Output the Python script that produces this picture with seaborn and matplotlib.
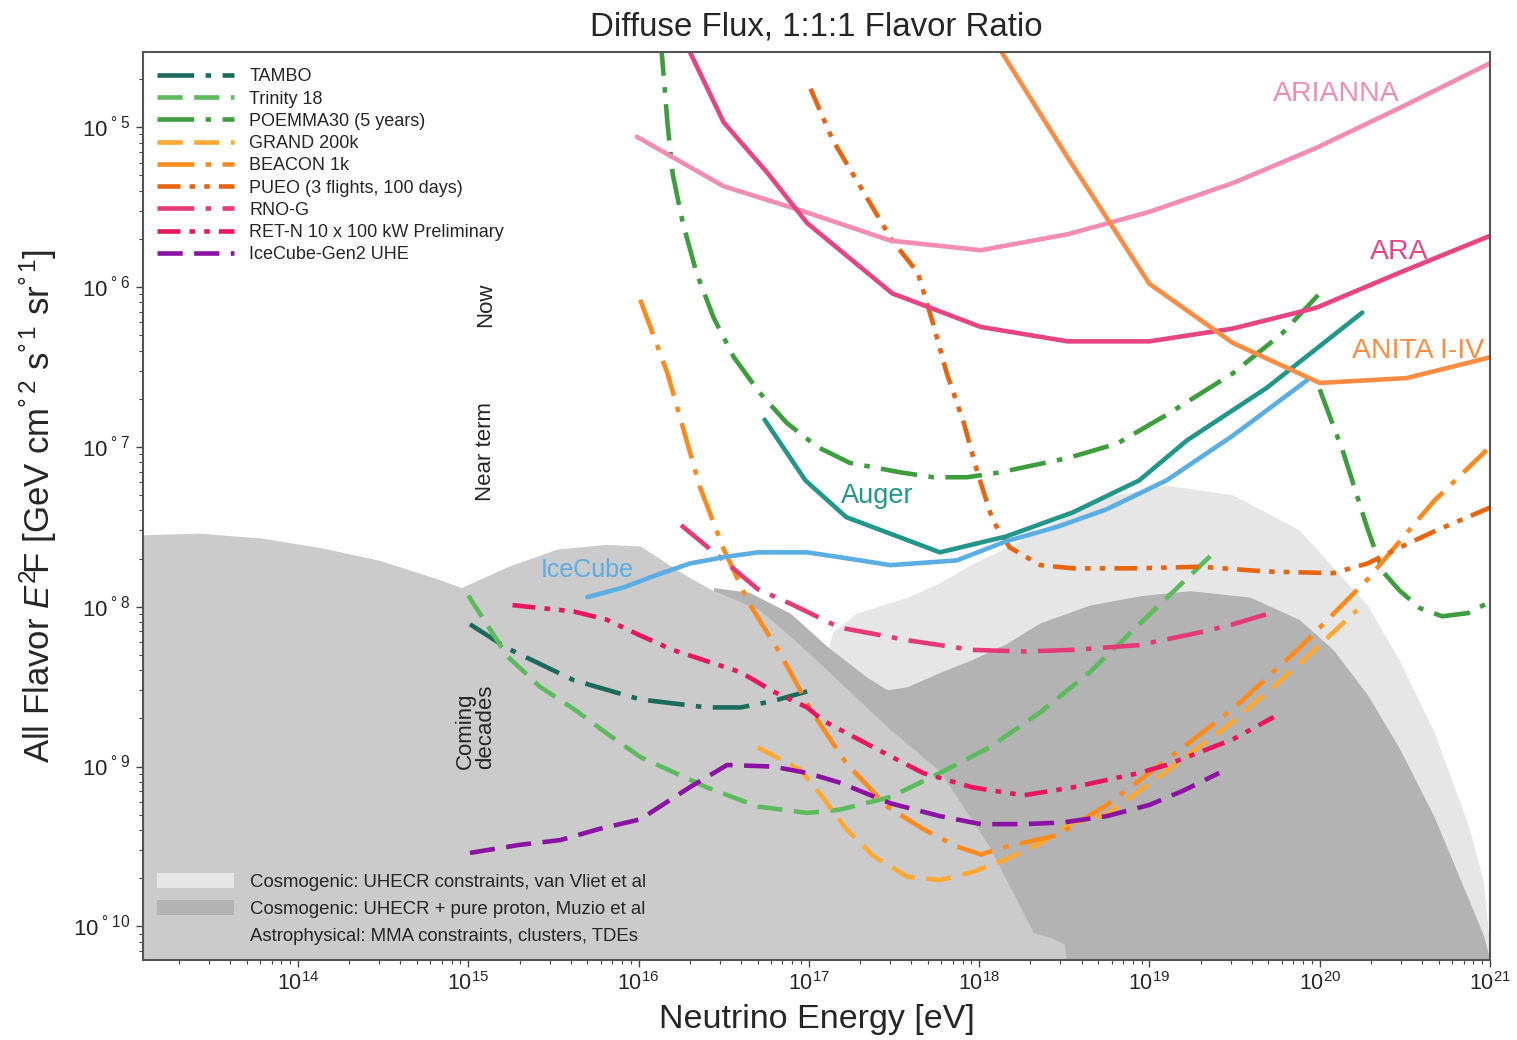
import numpy as np
import pandas as pd
import matplotlib
matplotlib.use("Agg")
import matplotlib.pyplot as plt
import seaborn as sns
from matplotlib.lines import Line2D
from matplotlib.patches import Patch
from matplotlib.ticker import LogLocator, NullFormatter

# ---------------- data (log10 energy [eV], log10 E^2F) ----------------
astro_logE = [13.0, 13.09, 13.42, 13.78, 14.13, 14.48, 14.83, 14.96, 15.23, 15.52, 15.81, 16.01,
              16.24, 16.42, 16.71, 16.95, 17.18, 17.48, 17.77, 18.06, 18.32, 18.42, 18.50, 18.55]
astro_logF = [-7.55, -7.55, -7.54, -7.57, -7.63, -7.71, -7.83, -7.88, -7.75, -7.64, -7.61, -7.62,
              -7.78, -7.89, -8.02, -8.24, -8.47, -8.77, -9.03, -9.5, -10.04, -10.07, -10.11, -10.5]

muzio_logE = [16.44, 16.44, 16.65, 16.89, 17.11, 17.34, 17.46, 17.58, 17.77, 17.96, 18.16, 18.36,
              18.65, 18.95, 19.24, 19.59, 19.88, 20.08, 20.28, 20.47, 20.67, 20.87, 20.96, 21.0]
muzio_logF = [-10.5, -7.88, -7.91, -8.04, -8.25, -8.44, -8.52, -8.5, -8.41, -8.33, -8.23, -8.1,
              -7.99, -7.93, -7.9, -7.94, -8.08, -8.27, -8.55, -8.89, -9.31, -9.82, -10.05, -10.21]

vliet_logE = [17.08, 17.14, 17.28, 17.58, 17.77, 17.96, 18.16, 18.36, 18.71, 19.10, 19.49, 19.88,
              20.28, 20.47, 20.67, 20.87, 20.96, 21.0]
vliet_logF = [-8.4, -8.16, -8.04, -7.94, -7.85, -7.73, -7.63, -7.52, -7.32, -7.24, -7.3, -7.52,
              -7.99, -8.34, -8.78, -9.36, -9.71, -10.15]

tambo_logE = [15.01, 15.23, 15.62, 16.01, 16.40, 16.60, 16.79, 16.99]
tambo_logF = [-8.11, -8.26, -8.46, -8.58, -8.63, -8.63, -8.59, -8.53]

trinity_logE = [15.0, 15.23, 15.42, 15.62, 15.81, 16.01, 16.40, 16.70, 16.99, 17.18, 17.48, 17.77,
                18.06, 18.36, 18.65, 18.95, 19.40]
trinity_logF = [-7.93, -8.31, -8.5, -8.64, -8.79, -8.94, -9.13, -9.25, -9.29, -9.27, -9.19, -9.04,
                -8.88, -8.66, -8.41, -8.1, -7.64]

poemma_a_logE = [16.13, 16.17, 16.20, 16.26, 16.34, 16.44, 16.56, 16.71, 16.87, 17.05, 17.24, 17.54,
                 17.73, 17.93, 18.12, 18.52, 18.81, 19.10, 19.49, 19.78, 20.0]
poemma_a_logF = [-4.45, -4.975, -5.29, -5.6, -5.91, -6.19, -6.44, -6.66, -6.85, -7.0, -7.1, -7.16,
                 -7.19, -7.19, -7.16, -7.07, -6.98, -6.8, -6.54, -6.29, -6.04]
poemma_b_logE = [20.0, 20.14, 20.28, 20.37, 20.47, 20.59, 20.72, 20.87, 21.0]
poemma_b_logF = [-6.64, -7.04, -7.51, -7.78, -7.9, -8.01, -8.06, -8.04, -7.97]

grand_logE = [16.70, 16.95, 17.08, 17.22, 17.38, 17.58, 17.77, 17.96, 18.16, 18.36, 18.55, 18.75,
              19.10, 19.49, 19.88, 20.22]
grand_logF = [-8.88, -9.02, -9.19, -9.39, -9.56, -9.69, -9.71, -9.66, -9.58, -9.48, -9.35, -9.3,
              -9.03, -8.72, -8.36, -8.02]

beacon_logE = [16.01, 16.17, 16.36, 16.50, 16.65, 16.83, 17.02, 17.22, 17.46, 17.67, 17.87, 18.01,
               18.16, 18.46, 18.75, 19.10, 19.49, 19.88, 20.28, 20.67, 20.98]
beacon_logF = [-6.08, -6.54, -7.25, -7.64, -7.98, -8.29, -8.66, -8.98, -9.25, -9.39, -9.5, -9.55,
               -9.5, -9.43, -9.24, -8.96, -8.64, -8.26, -7.83, -7.34, -7.02]

pueo_logE = [17.01, 17.14, 17.34, 17.49, 17.64, 17.73, 17.81, 17.91, 17.99, 18.08, 18.18, 18.36,
             18.55, 18.90, 19.30, 19.69, 20.08, 20.28, 20.47, 20.67, 21.0]
pueo_logF = [-4.76, -5.08, -5.44, -5.71, -5.91, -6.23, -6.54, -6.85, -7.16, -7.46, -7.63, -7.74,
             -7.76, -7.76, -7.75, -7.78, -7.79, -7.73, -7.63, -7.53, -7.38]

rnog_logE = [16.25, 16.50, 16.70, 16.89, 17.18, 17.58, 17.96, 18.26, 18.55, 18.94, 19.30, 19.49, 19.71]
rnog_logF = [-7.49, -7.71, -7.89, -7.98, -8.13, -8.21, -8.27, -8.28, -8.27, -8.24, -8.16, -8.11, -8.04]

retn_logE = [15.26, 15.62, 15.81, 16.01, 16.20, 16.40, 16.60, 16.79, 16.99, 17.08, 17.38, 17.67,
             17.96, 18.26, 18.55, 18.94, 19.10, 19.49, 19.73]
retn_logF = [-7.99, -8.03, -8.08, -8.18, -8.27, -8.34, -8.41, -8.53, -8.63, -8.71, -8.88, -9.04,
             -9.13, -9.18, -9.13, -9.04, -8.99, -8.83, -8.69]

gen2_logE = [15.01, 15.30, 15.54, 15.77, 16.01, 16.30, 16.52, 16.79, 16.99, 17.18, 17.48, 17.77,
             18.01, 18.26, 18.49, 18.75, 19.0, 19.20, 19.41]
gen2_logF = [-9.54, -9.49, -9.46, -9.39, -9.33, -9.13, -8.99, -9.0, -9.04, -9.1, -9.23, -9.31,
             -9.36, -9.36, -9.35, -9.31, -9.24, -9.15, -9.04]

icecube_logE = [15.70, 15.91, 16.11, 16.30, 16.50, 16.70, 16.99, 17.18, 17.48, 17.87, 18.16, 18.46,
                18.75, 19.10, 19.49, 19.93]
icecube_logF = [-7.94, -7.88, -7.8, -7.73, -7.69, -7.66, -7.66, -7.69, -7.74, -7.71, -7.59, -7.5,
                -7.39, -7.21, -6.93, -6.58]

auger_logE = [16.74, 16.98, 17.22, 17.77, 18.16, 18.55, 18.94, 19.22, 19.69, 20.25]
auger_logF = [-6.83, -7.21, -7.44, -7.66, -7.56, -7.41, -7.21, -6.96, -6.63, -6.16]

arianna_logE = [15.99, 16.50, 16.95, 17.48, 18.01, 18.52, 19.0, 19.49, 19.98, 20.47, 21.0]
arianna_logF = [-5.06, -5.37, -5.52, -5.71, -5.77, -5.67, -5.53, -5.35, -5.13, -4.88, -4.6]

ara_logE = [16.27, 16.50, 16.76, 16.99, 17.49, 18.01, 18.52, 19.0, 19.49, 19.98, 20.47, 21.0]
ara_logF = [-4.46, -4.97, -5.29, -5.6, -6.04, -6.25, -6.34, -6.34, -6.26, -6.13, -5.91, -5.68]

anita_logE = [18.12, 18.52, 19.0, 19.49, 20.0, 20.51, 21.0]
anita_logF = [-4.51, -5.19, -5.98, -6.35, -6.6, -6.57, -6.44]

legend_names = ["TAMBO", "Trinity 18", "POEMMA30 (5 years)", "GRAND 200k", "BEACON 1k",
                "PUEO (3 flights, 100 days)", "RNO-G", "RET-N 10 x 100 kW Preliminary",
                "IceCube-Gen2 UHE"]
region_names = ["Cosmogenic: UHECR constraints, van Vliet et al",
                "Cosmogenic: UHECR + pure proton, Muzio et al",
                "Astrophysical: MMA constraints, clusters, TDEs"]
xtick_exps = [14, 15, 16, 17, 18, 19, 20, 21]
ytick_exps = [5, 6, 7, 8, 9, 10]

# ---------------- styles ----------------
DASH = (5.5, 2.5)
DASHDOT = (8, 2.5, 1.2, 2.5)
DASHDOTDOT = (5, 2, 1.2, 2, 1.2, 2)
SOLID = ""

series = [
    ("TAMBO", tambo_logE, tambo_logF, "#1b6b5b", DASHDOT),
    ("Trinity 18", trinity_logE, trinity_logF, "#5dbb5d", DASH),
    ("POEMMA30 (5 years)", poemma_a_logE, poemma_a_logF, "#3c9e3c", DASHDOT),
    ("POEMMA30 b", poemma_b_logE, poemma_b_logF, "#3c9e3c", DASHDOT),
    ("GRAND 200k", grand_logE, grand_logF, "#ffa833", DASH),
    ("BEACON 1k", beacon_logE, beacon_logF, "#ff8a1e", DASHDOT),
    ("PUEO (3 flights, 100 days)", pueo_logE, pueo_logF, "#e8640f", DASHDOTDOT),
    ("RNO-G", rnog_logE, rnog_logF, "#e63a78", DASHDOT),
    ("RET-N 10 x 100 kW Preliminary", retn_logE, retn_logF, "#e8155f", DASHDOTDOT),
    ("IceCube-Gen2 UHE", gen2_logE, gen2_logF, "#8c12a3", DASH),
    ("IceCube", icecube_logE, icecube_logF, "#5aaee3", SOLID),
    ("Auger", auger_logE, auger_logF, "#22968a", SOLID),
    ("ARIANNA", arianna_logE, arianna_logF, "#f28cb5", SOLID),
    ("ARA", ara_logE, ara_logF, "#e64482", SOLID),
    ("ANITA I-IV", anita_logE, anita_logF, "#ff8c42", SOLID),
]

rows = []
for name, le, lf, _, _ in series:
    for a, b in zip(le, lf):
        rows.append({"name": name, "E": 10.0 ** a, "F": 10.0 ** b})
df = pd.DataFrame(rows)
order = [s[0] for s in series]
palette = {s[0]: s[3] for s in series}
dashes = {s[0]: s[4] for s in series}

# ---------------- figure ----------------
sns.set_theme(style="ticks")
plt.rcParams["font.family"] = ["Liberation Sans", "DejaVu Sans"]
plt.rcParams["mathtext.fontset"] = "custom"
plt.rcParams["mathtext.rm"] = "Liberation Sans"
plt.rcParams["mathtext.it"] = "Liberation Sans:italic"
plt.rcParams["mathtext.bf"] = "Liberation Sans:bold"

fig = plt.figure(figsize=(15.17, 10.4), dpi=100)
ax = fig.add_axes([143 / 1517, 80 / 1040, 1347 / 1517, 908 / 1040])
ax.set_xscale("log")
ax.set_yscale("log")

c_vliet, c_muzio, c_astro = "#e6e6e6", "#b3b3b3", "#cbcbcb"
bottom = 1e-12
ax.fill_between(10.0 ** np.array(vliet_logE), 10.0 ** np.array(vliet_logF), bottom,
                color=c_vliet, lw=0, zorder=1)
ax.fill_between(10.0 ** np.array(muzio_logE), 10.0 ** np.array(muzio_logF), bottom,
                color=c_muzio, lw=0, zorder=1.1)
ax.fill_between(10.0 ** np.array(astro_logE), 10.0 ** np.array(astro_logF), bottom,
                color=c_astro, lw=0, zorder=1.2)

sns.lineplot(data=df, x="E", y="F", hue="name", style="name", hue_order=order,
             style_order=order, palette=palette, dashes=dashes, sort=False,
             estimator=None, legend=False, linewidth=3.3, ax=ax, zorder=3)

ax.set_xlim(10 ** 13.09, 1e21)
ax.set_ylim(10 ** -10.21, 10 ** -4.53)

ax.set_xticks([10.0 ** e for e in xtick_exps])
ax.set_xticklabels([r"$10^{%d}$" % e for e in xtick_exps], fontsize=15.5)
ax.set_yticks([10.0 ** -e for e in ytick_exps])
ax.set_yticklabels([r"$10^{\;°\;%d}$" % e for e in ytick_exps], fontsize=16)
ax.xaxis.set_minor_locator(LogLocator(base=10, subs=np.arange(2, 10), numticks=100))
ax.yaxis.set_minor_locator(LogLocator(base=10, subs=np.arange(2, 10), numticks=100))
ax.xaxis.set_minor_formatter(NullFormatter())
ax.yaxis.set_minor_formatter(NullFormatter())
ax.tick_params(which="major", direction="out", length=5, width=1, color="#444444", pad=4)
ax.tick_params(which="minor", direction="out", length=3, width=0.8, color="#444444")
for sp in ax.spines.values():
    sp.set_color("#555555")
    sp.set_linewidth(1.5)
    sp.set_zorder(10)

ax.set_title("Diffuse Flux, 1:1:1 Flavor Ratio", fontsize=23.8, pad=12)
ax.set_xlabel("Neutrino Energy [eV]", fontsize=24.5, labelpad=6)
ax.set_ylabel(r"All Flavor $E^{2}\!$F [GeV cm$^{°\,2}$ s$^{°\,1}$ sr$^{°\,1}$]",
              fontsize=25, labelpad=10)

# curve labels
ax.text(10 ** 20.10, 10 ** -4.79, "ARIANNA", color="#f28cb5", fontsize=20.5, ha="center", va="center", zorder=5)
ax.text(10 ** 20.47, 10 ** -5.78, "ARA", color="#e64482", fontsize=20.5, ha="center", va="center", zorder=5)
ax.text(10 ** 20.58, 10 ** -6.40, "ANITA I-IV", color="#ff8c42", fontsize=20.5, ha="center", va="center", zorder=5)
ax.text(10 ** 17.40, 10 ** -7.31, "Auger", color="#22968a", fontsize=19.5, ha="center", va="center", zorder=5)
ax.text(10 ** 15.70, 10 ** -7.77, "IceCube", color="#5aaee3", fontsize=18, ha="center", va="center", zorder=5)
ax.text(10 ** 15.10, 10 ** -6.11, "Now", rotation=90, fontsize=16, ha="center", va="center", zorder=5)
ax.text(10 ** 15.10, 10 ** -7.03, "Near term", rotation=90, fontsize=16, ha="center", va="center", zorder=5)
ax.text(10 ** 15.04, 10 ** -8.75, "Coming\ndecades", rotation=90, fontsize=16, ha="center",
        va="center", multialignment="left", linespacing=0.95, zorder=5)

# legends
handles = []
for name in legend_names:
    s = next(t for t in series if t[0] == name)
    handles.append(Line2D([], [], color=s[3], lw=3.3, dashes=s[4]))
leg1 = ax.legend(handles, legend_names, loc="upper left", bbox_to_anchor=(0.008, 0.986),
                 frameon=False, fontsize=13, handlelength=4.25, handletextpad=0.85,
                 labelspacing=0.29, borderaxespad=0, borderpad=0.2)
leg1.set_zorder(20)
ax.add_artist(leg1)

patches = [Patch(facecolor=c_vliet, edgecolor="none"),
           Patch(facecolor=c_muzio, edgecolor="none"),
           Patch(facecolor=c_astro, edgecolor="none")]
leg2 = ax.legend(patches, region_names, loc="lower left", bbox_to_anchor=(0.008, 0.012),
                 frameon=False, fontsize=13.4, handlelength=4.1, handleheight=0.85,
                 handletextpad=0.85, labelspacing=0.5, borderaxespad=0, borderpad=0.2)
leg2.set_zorder(20)

fig.savefig("out.png", dpi=100, facecolor="white")
